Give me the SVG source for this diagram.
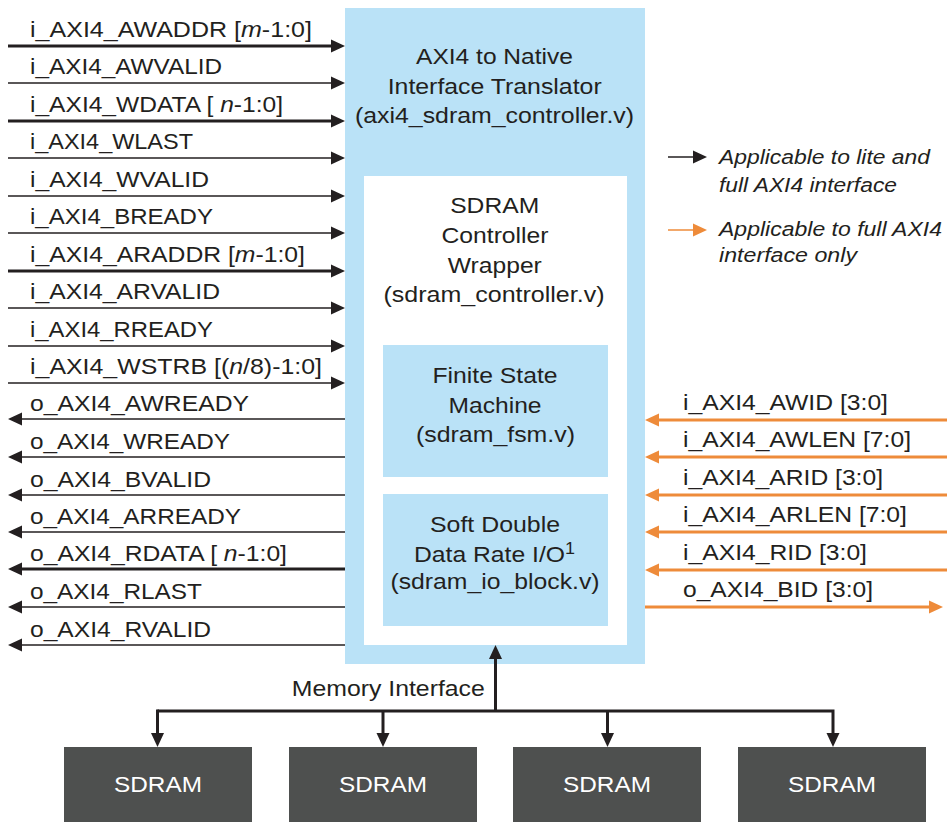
<svg xmlns="http://www.w3.org/2000/svg" width="947" height="822" viewBox="0 0 947 822">
  <defs>
    <style>
      text { font-family: "Liberation Sans", Arial, sans-serif; font-size: 22px; fill: #231f20; }
      .c { text-anchor: middle; }
      .it { font-style: italic; }
      .leg { font-style: italic; font-size: 20px; }
      .sd { fill: #ffffff; }
      .blue { fill: #bae2f7; }
      .white { fill: #ffffff; }
      .chip { fill: #4e504f; }
      .thin { stroke: #231f20; stroke-width: 1.3; fill: none; }
      .bus { stroke: #231f20; stroke-width: 3; fill: none; }
      .or { stroke: #ee8b3a; stroke-width: 3; fill: none; }
      .orthin { stroke: #ee8b3a; stroke-width: 1.5; fill: none; }
    </style>
    <marker id="ah" markerUnits="userSpaceOnUse" viewBox="0 0 14 14" markerWidth="14" markerHeight="14" refX="10" refY="7" orient="auto">
      <path d="M0,0.5 L14,7 L0,13.5 z" fill="#231f20"/>
    </marker>
    <marker id="ahOr" markerUnits="userSpaceOnUse" viewBox="0 0 14 14" markerWidth="14" markerHeight="14" refX="10" refY="7" orient="auto">
      <path d="M0,0.5 L14,7 L0,13.5 z" fill="#ee8b3a"/>
    </marker>
  </defs>

  <!-- AXI4 to native interface translator with nested blocks -->
  <g id="translator">
    <rect class="blue" x="345" y="8" width="300" height="656"/>
    <text class="c" x="494.5" y="64" textLength="157" lengthAdjust="spacingAndGlyphs">AXI4 to Native</text>
    <text class="c" x="494.7" y="93.5" textLength="214" lengthAdjust="spacingAndGlyphs">Interface Translator</text>
    <text class="c" x="494.5" y="123" textLength="279" lengthAdjust="spacingAndGlyphs">(axi4_sdram_controller.v)</text>
  </g>
  <g id="wrapper">
    <rect class="white" x="364" y="176" width="263" height="469"/>
    <text class="c" x="494.7" y="213" textLength="89" lengthAdjust="spacingAndGlyphs">SDRAM</text>
    <text class="c" x="495" y="243" textLength="107" lengthAdjust="spacingAndGlyphs">Controller</text>
    <text class="c" x="494.8" y="273" textLength="94" lengthAdjust="spacingAndGlyphs">Wrapper</text>
    <text class="c" x="494" y="302" textLength="221" lengthAdjust="spacingAndGlyphs">(sdram_controller.v)</text>
  </g>
  <g id="fsm">
    <rect class="blue" x="383" y="345" width="225" height="132"/>
    <text class="c" x="495" y="383" textLength="125" lengthAdjust="spacingAndGlyphs">Finite State</text>
    <text class="c" x="495" y="413" textLength="93" lengthAdjust="spacingAndGlyphs">Machine</text>
    <text class="c" x="495.5" y="442" textLength="159" lengthAdjust="spacingAndGlyphs">(sdram_fsm.v)</text>
  </g>
  <g id="ddr-io">
    <rect class="blue" x="383" y="494" width="225" height="132"/>
    <text class="c" x="495" y="532" textLength="130" lengthAdjust="spacingAndGlyphs">Soft Double</text>
    <text class="c" x="494.5" y="562" textLength="161" lengthAdjust="spacingAndGlyphs">Data Rate I/O<tspan font-size="16" dy="-8">1</tspan></text>
    <text class="c" x="495" y="589" textLength="209" lengthAdjust="spacingAndGlyphs">(sdram_io_block.v)</text>
  </g>

  <!-- SDRAM devices -->
  <g id="sdram-0">
    <rect class="chip" x="64" y="747" width="188" height="75"/>
    <text class="c sd" x="158" y="792" textLength="88" lengthAdjust="spacingAndGlyphs">SDRAM</text>
  </g>
  <g id="sdram-1">
    <rect class="chip" x="289" y="747" width="188" height="75"/>
    <text class="c sd" x="383" y="792" textLength="88" lengthAdjust="spacingAndGlyphs">SDRAM</text>
  </g>
  <g id="sdram-2">
    <rect class="chip" x="513" y="747" width="188" height="75"/>
    <text class="c sd" x="607" y="792" textLength="88" lengthAdjust="spacingAndGlyphs">SDRAM</text>
  </g>
  <g id="sdram-3">
    <rect class="chip" x="738" y="747" width="188" height="75"/>
    <text class="c sd" x="832" y="792" textLength="88" lengthAdjust="spacingAndGlyphs">SDRAM</text>
  </g>

  <!-- Legend -->
  <g id="legend">
    <line class="thin" x1="668" y1="157" x2="703" y2="157" marker-end="url(#ah)"/>
    <text class="leg" x="719" y="164" textLength="211" lengthAdjust="spacingAndGlyphs">Applicable to lite and</text>
    <text class="leg" x="719" y="192" textLength="178" lengthAdjust="spacingAndGlyphs">full AXI4 interface</text>
    <line class="orthin" x1="668" y1="230" x2="703" y2="230" marker-end="url(#ahOr)"/>
    <text class="leg" x="719" y="236" textLength="223" lengthAdjust="spacingAndGlyphs">Applicable to full AXI4</text>
    <text class="leg" x="719" y="262" textLength="138" lengthAdjust="spacingAndGlyphs">interface only</text>
  </g>

  <!-- Signal connectors -->
  <g id="connectors">
    <!-- AXI4 inputs (left) -->
    <line class="bus" x1="8" y1="46" x2="341" y2="46" marker-end="url(#ah)"/>
    <line class="thin" x1="8" y1="83" x2="341" y2="83" marker-end="url(#ah)"/>
    <line class="bus" x1="8" y1="121" x2="341" y2="121" marker-end="url(#ah)"/>
    <line class="thin" x1="8" y1="158" x2="341" y2="158" marker-end="url(#ah)"/>
    <line class="thin" x1="8" y1="196" x2="341" y2="196" marker-end="url(#ah)"/>
    <line class="thin" x1="8" y1="233" x2="341" y2="233" marker-end="url(#ah)"/>
    <line class="bus" x1="8" y1="271" x2="341" y2="271" marker-end="url(#ah)"/>
    <line class="thin" x1="8" y1="308" x2="341" y2="308" marker-end="url(#ah)"/>
    <line class="thin" x1="8" y1="346" x2="341" y2="346" marker-end="url(#ah)"/>
    <line class="thin" x1="8" y1="383" x2="341" y2="383" marker-end="url(#ah)"/>
    <!-- AXI4 outputs (left) -->
    <line class="thin" x1="345" y1="419" x2="12" y2="419" marker-end="url(#ah)"/>
    <line class="thin" x1="345" y1="457" x2="12" y2="457" marker-end="url(#ah)"/>
    <line class="thin" x1="345" y1="495" x2="12" y2="495" marker-end="url(#ah)"/>
    <line class="thin" x1="345" y1="532" x2="12" y2="532" marker-end="url(#ah)"/>
    <line class="bus" x1="345" y1="569" x2="12" y2="569" marker-end="url(#ah)"/>
    <line class="thin" x1="345" y1="607" x2="12" y2="607" marker-end="url(#ah)"/>
    <line class="thin" x1="345" y1="645" x2="12" y2="645" marker-end="url(#ah)"/>
    <!-- full AXI4 only (right) -->
    <line class="or" x1="947" y1="420" x2="649" y2="420" marker-end="url(#ahOr)"/>
    <line class="or" x1="947" y1="457" x2="649" y2="457" marker-end="url(#ahOr)"/>
    <line class="or" x1="947" y1="495" x2="649" y2="495" marker-end="url(#ahOr)"/>
    <line class="or" x1="947" y1="532" x2="649" y2="532" marker-end="url(#ahOr)"/>
    <line class="or" x1="947" y1="570" x2="649" y2="570" marker-end="url(#ahOr)"/>
    <line class="or" x1="645" y1="607" x2="939" y2="607" marker-end="url(#ahOr)"/>
    <!-- memory interface -->
    <line class="bus" x1="495.5" y1="711" x2="495.5" y2="649" marker-end="url(#ah)"/>
    <polyline class="bus" points="157.5,711 833,711 833,743" marker-end="url(#ah)"/>
    <line class="bus" x1="157.5" y1="709.5" x2="157.5" y2="743" marker-end="url(#ah)"/>
    <line class="bus" x1="383" y1="711" x2="383" y2="743" marker-end="url(#ah)"/>
    <line class="bus" x1="607.5" y1="711" x2="607.5" y2="743" marker-end="url(#ah)"/>
  </g>

  <!-- Signal names -->
  <g id="signal-labels">
    <text x="30" y="36.5" textLength="282" lengthAdjust="spacingAndGlyphs">i_AXI4_AWADDR [<tspan class="it">m</tspan>-1:0]</text>
    <text x="30" y="73.5" textLength="192" lengthAdjust="spacingAndGlyphs">i_AXI4_AWVALID</text>
    <text x="30" y="111.5" textLength="253" lengthAdjust="spacingAndGlyphs">i_AXI4_WDATA [ <tspan class="it">n</tspan>-1:0]</text>
    <text x="30" y="148.5" textLength="163" lengthAdjust="spacingAndGlyphs">i_AXI4_WLAST</text>
    <text x="30" y="186.5" textLength="179" lengthAdjust="spacingAndGlyphs">i_AXI4_WVALID</text>
    <text x="30" y="223.5" textLength="183" lengthAdjust="spacingAndGlyphs">i_AXI4_BREADY</text>
    <text x="30" y="261.5" textLength="275" lengthAdjust="spacingAndGlyphs">i_AXI4_ARADDR [<tspan class="it">m</tspan>-1:0]</text>
    <text x="30" y="298.5" textLength="190" lengthAdjust="spacingAndGlyphs">i_AXI4_ARVALID</text>
    <text x="30" y="336.5" textLength="183" lengthAdjust="spacingAndGlyphs">i_AXI4_RREADY</text>
    <text x="30" y="373.5" textLength="292" lengthAdjust="spacingAndGlyphs">i_AXI4_WSTRB [(<tspan class="it">n</tspan>/8)-1:0]</text>

    <text x="30" y="411" textLength="219" lengthAdjust="spacingAndGlyphs">o_AXI4_AWREADY</text>
    <text x="30" y="449" textLength="200" lengthAdjust="spacingAndGlyphs">o_AXI4_WREADY</text>
    <text x="30" y="487" textLength="181" lengthAdjust="spacingAndGlyphs">o_AXI4_BVALID</text>
    <text x="30" y="524" textLength="211" lengthAdjust="spacingAndGlyphs">o_AXI4_ARREADY</text>
    <text x="30" y="561" textLength="257" lengthAdjust="spacingAndGlyphs">o_AXI4_RDATA [ <tspan class="it">n</tspan>-1:0]</text>
    <text x="30" y="599" textLength="172" lengthAdjust="spacingAndGlyphs">o_AXI4_RLAST</text>
    <text x="30" y="637" textLength="181" lengthAdjust="spacingAndGlyphs">o_AXI4_RVALID</text>

    <text x="683" y="409.5" textLength="205" lengthAdjust="spacingAndGlyphs">i_AXI4_AWID [3:0]</text>
    <text x="683" y="446.5" textLength="228" lengthAdjust="spacingAndGlyphs">i_AXI4_AWLEN [7:0]</text>
    <text x="683" y="484.5" textLength="200" lengthAdjust="spacingAndGlyphs">i_AXI4_ARID [3:0]</text>
    <text x="683" y="521.5" textLength="224" lengthAdjust="spacingAndGlyphs">i_AXI4_ARLEN [7:0]</text>
    <text x="683" y="559.5" textLength="184" lengthAdjust="spacingAndGlyphs">i_AXI4_RID [3:0]</text>
    <text x="683" y="596.5" textLength="190" lengthAdjust="spacingAndGlyphs">o_AXI4_BID [3:0]</text>

    <text class="c" x="388.3" y="696" textLength="193" lengthAdjust="spacingAndGlyphs">Memory Interface</text>
  </g>
</svg>
